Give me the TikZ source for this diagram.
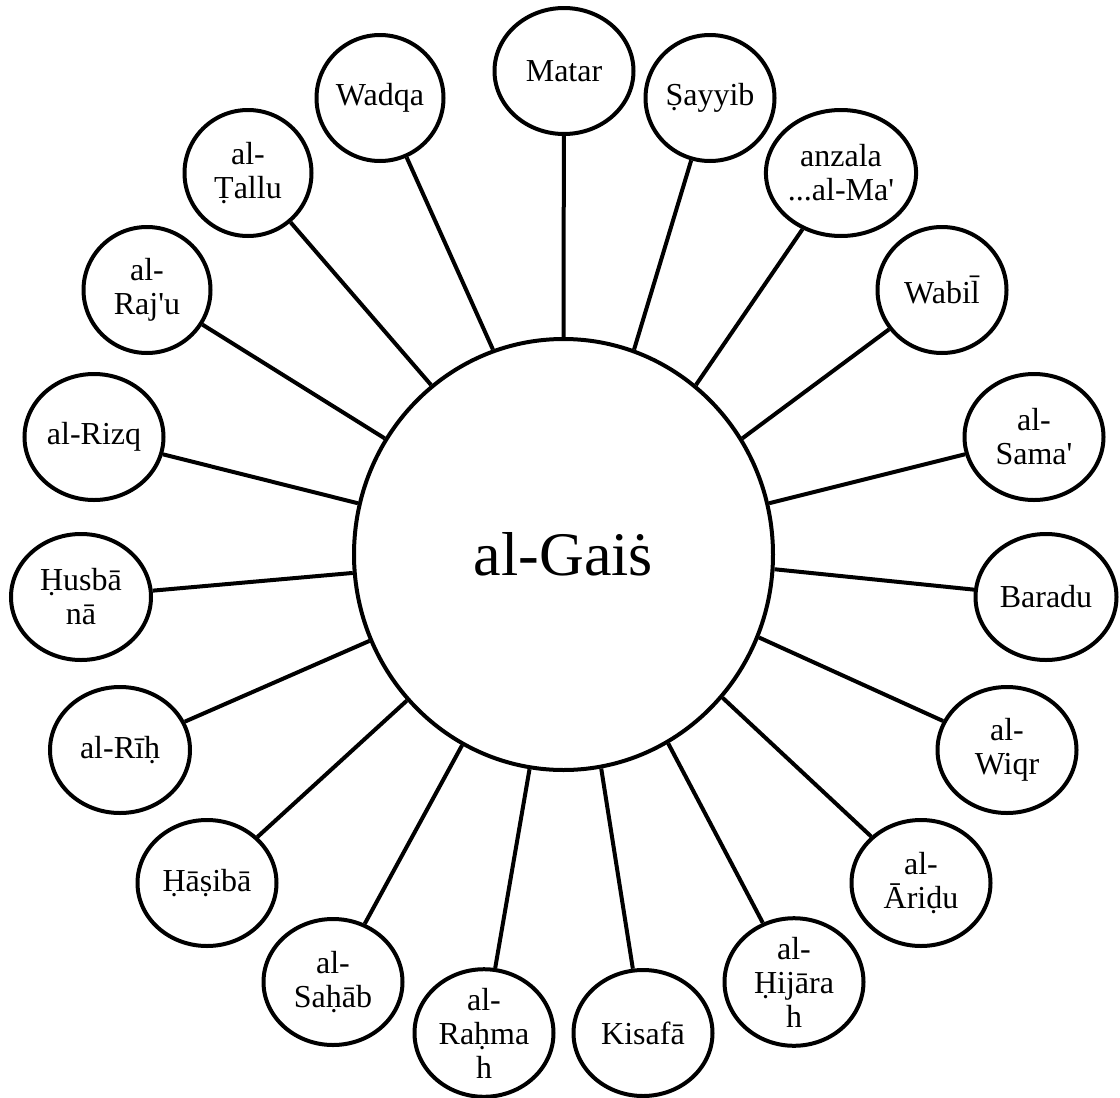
\documentclass[tikz,border=0pt]{standalone}
\usepackage{fontspec}
\setmainfont{LiberationSerif}[Extension=.ttf, UprightFont=*-Regular, BoldFont=*-Bold, ItalicFont=*-Italic]
\usetikzlibrary{shapes.geometric}

\begin{document}
\begin{tikzpicture}[
x=0.5pt, y=-0.5pt,
hub/.style={ellipse, draw=black, line width=2pt, minimum width=209.5pt, minimum height=215.5pt, inner sep=0pt, font=\fontsize{31}{36}\selectfont},
word/.style={ellipse, draw=black, line width=2pt, minimum height=63pt, inner sep=0pt, align=center, font=\fontsize{16}{17}\selectfont},
spoke/.style={line width=2pt},
]
\useasboundingbox (0,0) rectangle (1120,1098);
\node[hub] (gaith) at (563.5,554.5) {al-Gaiṡ};
\foreach \x/\y/\w/\t [count=\i from 0, evaluate=\i as \a using 90-\i*360/19] in {
    564/71/139/{Matar},
    710/98/129/{Ṣayyib},
    841/173/130/{anzala\\...al-Ma\textquotesingle},
    942/290/129/{Wabil̄},
    1034/437/139/{al-\\Sama\textquotesingle},
    1046/597/141/{Baradu},
    1007/750/139/{al-\\Wiqr},
    921/883/139/{al-\\Āriḍu},
    794/982/139/{al-\\Ḥijāra\\h},
    643/1033/139/{Kisafā},
    484/1033/139/{al-\\Raḥma\\h},
    333/982/139/{al-\\Saḥāb},
    207/883/139/{Ḥāṣibā},
    120/750/140/{al-Rīḥ},
    81/597/140/{Ḥusbā\\nā},
    94/437/139/{al-Rizq},
    147/290/127/{al-\\Raj\textquotesingle u},
    248/173/127/{al-\\Ṭallu},
    380/98/127/{Wadqa}}
{
    \node[word, minimum width=\w*0.5pt] (w\i) at (\x,\y) {\t};
    \draw[spoke] (gaith.\a) -- (w\i);
}
\end{tikzpicture}
\end{document}
